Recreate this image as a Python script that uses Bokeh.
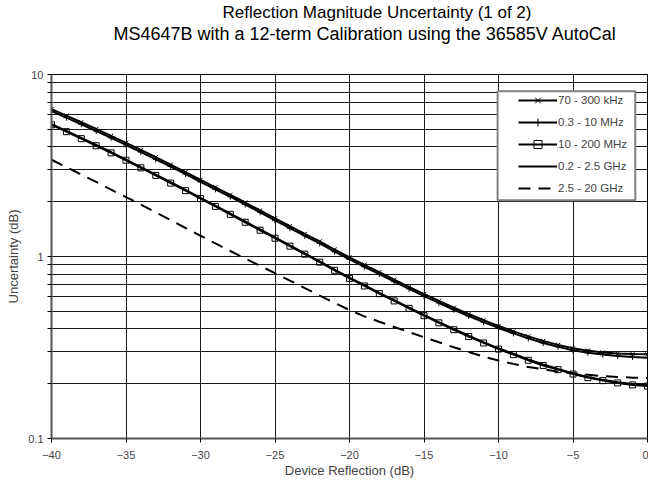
from bokeh.plotting import figure
from bokeh.models import (FixedTicker, Legend, LegendItem, BoxAnnotation, Range1d,
                          CustomJSTickFormatter, Title)
from bokeh.embed import file_html
from bokeh.resources import INLINE

# ---------------- data ----------------
reflection_db = [-40, -39, -38, -37, -36, -35, -34, -33, -32, -31, -30,
                 -29, -28, -27, -26, -25, -24, -23, -22, -21, -20,
                 -19, -18, -17, -16, -15, -14, -13, -12, -11, -10,
                 -9, -8, -7, -6, -5, -4, -3, -2, -1, 0]

unc_70k_300k = [6.45, 5.94, 5.47, 5.02, 4.60, 4.21, 3.85, 3.51, 3.20, 2.91, 2.64,
                2.40, 2.18, 1.98, 1.79, 1.62, 1.47, 1.33, 1.21, 1.09, 0.99,
                0.90, 0.82, 0.746, 0.681, 0.622, 0.570, 0.523, 0.483, 0.447, 0.415,
                0.388, 0.364, 0.344, 0.327, 0.313, 0.304, 0.297, 0.293, 0.291, 0.290]

unc_03_10M = [6.29, 5.79, 5.33, 4.89, 4.49, 4.10, 3.75, 3.42, 3.12, 2.84, 2.57,
              2.34, 2.13, 1.93, 1.75, 1.58, 1.43, 1.30, 1.18, 1.063, 0.965,
              0.878, 0.800, 0.727, 0.664, 0.606, 0.556, 0.510, 0.471, 0.436, 0.405,
              0.378, 0.355, 0.335, 0.319, 0.305, 0.296, 0.289, 0.284, 0.280, 0.278]

unc_10_200M = [5.29, 4.85, 4.44, 4.06, 3.71, 3.38, 3.07, 2.79, 2.53, 2.30, 2.08,
               1.885, 1.705, 1.542, 1.394, 1.260, 1.140, 1.030, 0.931, 0.840, 0.758,
               0.689, 0.625, 0.570, 0.519, 0.473, 0.432, 0.396, 0.363, 0.335, 0.310,
               0.289, 0.269, 0.252, 0.239, 0.226, 0.216, 0.208, 0.202, 0.197, 0.194]

unc_02_25G = [5.34, 4.90, 4.48, 4.10, 3.75, 3.41, 3.10, 2.82, 2.56, 2.32, 2.10,
              1.904, 1.722, 1.557, 1.408, 1.273, 1.151, 1.040, 0.940, 0.848, 0.766,
              0.696, 0.631, 0.576, 0.524, 0.478, 0.436, 0.400, 0.367, 0.338, 0.313,
              0.292, 0.272, 0.255, 0.241, 0.228, 0.218, 0.210, 0.204, 0.199, 0.196]

unc_25_20G = [3.40, 3.10, 2.82, 2.57, 2.33, 2.12, 1.93, 1.746, 1.583, 1.434, 1.30,
              1.180, 1.072, 0.975, 0.888, 0.810, 0.737, 0.671, 0.610, 0.556, 0.508,
              0.469, 0.438, 0.410, 0.384, 0.360, 0.338, 0.317, 0.299, 0.282, 0.268,
              0.257, 0.247, 0.240, 0.233, 0.228, 0.224, 0.220, 0.218, 0.216, 0.215]

series_names = ["70 - 300 kHz", "0.3 - 10 MHz", "10 - 200 MHz", "0.2 - 2.5 GHz", "2.5 - 20 GHz"]

x_ticks = [-40, -35, -30, -25, -20, -15, -10, -5, 0]
y_major_ticks = [0.1, 1, 10]
y_minor_ticks = [0.2, 0.3, 0.4, 0.5, 0.6, 0.7, 0.8, 0.9, 2, 3, 4, 5, 6, 7, 8, 9]

title_line1 = "Reflection Magnitude Uncertainty (1 of 2)"
title_line2 = "MS4647B with a 12-term Calibration using the 36585V AutoCal"
x_label = "Device Reflection (dB)"
y_label = "Uncertainty (dB)"

FONT = "Liberation Sans"

# ---------------- figure ----------------
p = figure(width=648, height=486, output_backend="svg", toolbar_location=None,
           x_range=Range1d(-40, 0), y_range=Range1d(0.1, 10), y_axis_type="log",
           min_border_left=51, min_border_right=1, min_border_top=70, min_border_bottom=48)

p.outline_line_color = "black"
p.background_fill_color = "white"
p.border_fill_color = "white"

# titles: spacer (closest to plot), then line 2, then line 1
spacer = Title(text=" ", text_font_size="1px", standoff=28)
t2 = Title(text=title_line2, align="left", offset=62, text_font=FONT, text_font_size="18px",
           text_font_style="normal", text_color="black", standoff=0)
t1 = Title(text=title_line1, align="left", offset=171, text_font=FONT, text_font_size="17px",
           text_font_style="normal", text_color="black", standoff=0)
p.add_layout(spacer, "above")
p.add_layout(t2, "above")
p.add_layout(t1, "above")

# axes
p.xaxis.ticker = FixedTicker(ticks=x_ticks)
p.yaxis.ticker = FixedTicker(ticks=y_major_ticks, minor_ticks=y_minor_ticks)
p.yaxis.formatter = CustomJSTickFormatter(code="return String(Number(tick.toPrecision(3)));")
p.xaxis.axis_label = x_label
p.yaxis.axis_label = y_label
for ax in (p.xaxis, p.yaxis):
    ax.axis_label_text_font = FONT
    ax.axis_label_text_font_size = "13px"
    ax.axis_label_text_font_style = "normal"
    ax.major_label_text_font = FONT
    ax.major_label_text_font_size = "11px"
    ax.axis_line_color = "#555555"
    ax.axis_line_width = 2
    ax.major_tick_line_color = "black"
    ax.minor_tick_line_color = "black"
    ax.major_tick_in = 0
    ax.major_tick_out = 4
    ax.minor_tick_in = 0
    ax.minor_tick_out = 4
p.xaxis.minor_tick_line_color = None
p.xaxis.major_label_standoff = 8
p.xaxis.axis_label_standoff = 1
p.yaxis.major_label_standoff = 4
p.yaxis.axis_label_standoff = 4

# grid
p.xgrid.ticker = FixedTicker(ticks=x_ticks)
p.ygrid.ticker = FixedTicker(ticks=y_major_ticks, minor_ticks=y_minor_ticks)
p.xgrid.grid_line_color = "#1a1a1a"
p.ygrid.grid_line_color = "#1a1a1a"
p.ygrid.minor_grid_line_color = "#1a1a1a"
p.xgrid.grid_line_width = 1
p.ygrid.grid_line_width = 1
p.ygrid.minor_grid_line_width = 1

# series
x = reflection_db
la = p.line(x, unc_70k_300k, line_color="black", line_width=2)
ma = p.scatter(x, unc_70k_300k, marker="x", size=6, line_color="black", line_width=1)
lb = p.line(x, unc_03_10M, line_color="black", line_width=2)
mb = p.scatter(x, unc_03_10M, marker="cross", size=6, line_color="black", line_width=1)
lc = p.line(x, unc_10_200M, line_color="black", line_width=2)
mc = p.scatter(x, unc_10_200M, marker="square", size=6, line_color="black",
               line_width=1, fill_color=None)
ld = p.line(x, unc_02_25G, line_color="black", line_width=2)
le = p.line(x, unc_25_20G, line_color="black", line_width=2, line_dash="12 8")

# legend frame (white box with gray border)
box = BoxAnnotation(left=-10.06, right=-0.82, top=8.08, bottom=2.04,
                    fill_color="white", fill_alpha=1.0,
                    line_color="#808080", line_width=2, line_alpha=1.0)
p.add_layout(box)

legend = Legend(items=[
    LegendItem(label=series_names[0], renderers=[la, ma]),
    LegendItem(label=series_names[1], renderers=[lb, mb]),
    LegendItem(label=series_names[2], renderers=[lc, mc]),
    LegendItem(label=series_names[3], renderers=[ld]),
    LegendItem(label=series_names[4], renderers=[le]),
], location=(467, 240), orientation="vertical",
    glyph_width=39, glyph_height=20, label_height=20, spacing=2,
    padding=0, margin=0, label_standoff=1,
    label_text_font=FONT, label_text_font_size="11.5px",
    border_line_alpha=0, background_fill_alpha=0)
p.add_layout(legend)

open("out.html", "w").write(file_html(p, INLINE))
